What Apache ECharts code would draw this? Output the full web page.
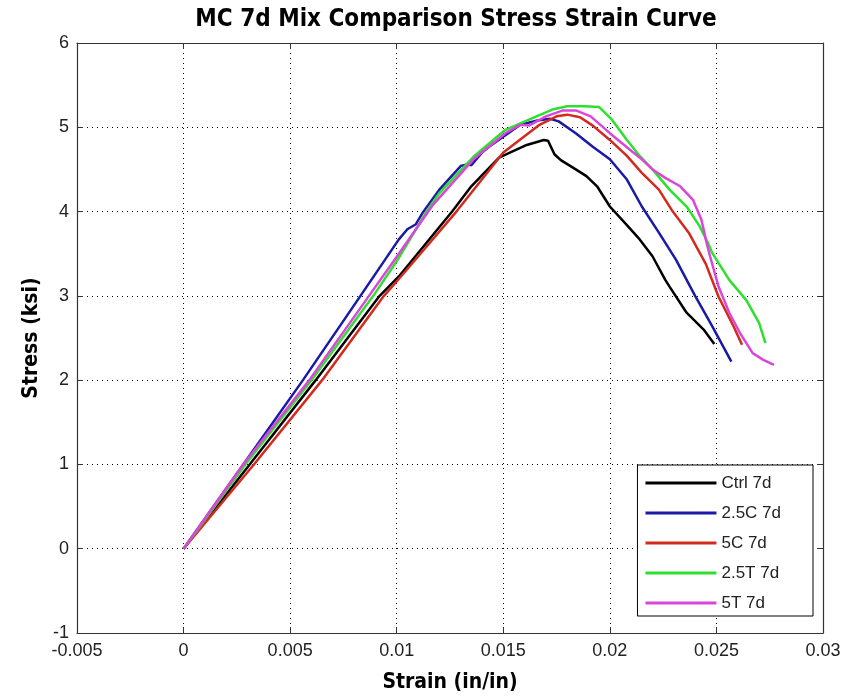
<!DOCTYPE html>
<html>
<head>
<meta charset="utf-8">
<script src="https://cdn.jsdelivr.net/npm/echarts@6/dist/echarts.min.js"></script>
<style>html,body{margin:0;padding:0;background:#fff}#c{width:849px;height:700px}</style>
</head>
<body>
<div id="c"></div>
<script>
var seriesNames = ['Ctrl 7d', '2.5C 7d', '5C 7d', '2.5T 7d', '5T 7d'];
var xTicks = [-0.005, 0, 0.005, 0.01, 0.015, 0.02, 0.025, 0.03];
var yTicks = [-1, 0, 1, 2, 3, 4, 5, 6];

var ctrlStrain = [0, 0.0031, 0.0062, 0.0092, 0.0101, 0.0126, 0.0135, 0.0148, 0.0161, 0.0169, 0.0171, 0.0174, 0.0177, 0.0184, 0.0189, 0.0194, 0.0200, 0.0208, 0.0214, 0.0220, 0.0226, 0.0228, 0.0236, 0.0244, 0.0249];
var ctrlStress = [0, 1.0, 2.0, 3.0, 3.23, 4.0, 4.3, 4.64, 4.79, 4.85, 4.84, 4.68, 4.61, 4.5, 4.42, 4.3, 4.06, 3.84, 3.67, 3.47, 3.19, 3.11, 2.80, 2.60, 2.43];

var c25Strain = [0, 0.0028, 0.0056, 0.0083, 0.0101, 0.0105, 0.0109, 0.0112, 0.0120, 0.0130, 0.0133, 0.0135, 0.0140, 0.0145, 0.0158, 0.0166, 0.0172, 0.0176, 0.0184, 0.0192, 0.0200, 0.0208, 0.0215, 0.0223, 0.0231, 0.0240, 0.0248, 0.0257];
var c25Stress = [0, 1.0, 2.0, 3.0, 3.67, 3.79, 3.85, 3.98, 4.26, 4.54, 4.56, 4.55, 4.7, 4.8, 5.03, 5.08, 5.1, 5.07, 4.93, 4.77, 4.62, 4.38, 4.06, 3.75, 3.43, 3.0, 2.64, 2.22];

var c5Strain = [0, 0.0033, 0.0065, 0.0094, 0.0101, 0.0128, 0.0150, 0.0167, 0.0175, 0.0180, 0.0186, 0.0192, 0.0200, 0.0208, 0.0215, 0.0223, 0.0229, 0.0237, 0.0245, 0.0251, 0.0258, 0.0262];
var c5Stress = [0, 1.0, 2.0, 3.0, 3.2, 4.0, 4.7, 5.03, 5.13, 5.15, 5.12, 5.02, 4.85, 4.66, 4.46, 4.26, 4.02, 3.75, 3.38, 2.99, 2.64, 2.42];

var t25Strain = [0, 0.0029, 0.0060, 0.0089, 0.0101, 0.0114, 0.0120, 0.0136, 0.0151, 0.0161, 0.0173, 0.0180, 0.0188, 0.0195, 0.0201, 0.0208, 0.0214, 0.0220, 0.0228, 0.0236, 0.0242, 0.0246, 0.0248, 0.0256, 0.0264, 0.0270, 0.0273];
var t25Stress = [0, 1.0, 2.0, 3.0, 3.45, 4.0, 4.22, 4.65, 4.97, 5.08, 5.21, 5.25, 5.25, 5.24, 5.09, 4.85, 4.66, 4.5, 4.26, 4.06, 3.83, 3.63, 3.51, 3.19, 2.95, 2.68, 2.44];

var t5Strain = [0, 0.0028, 0.0059, 0.0087, 0.0101, 0.0117, 0.0136, 0.0151, 0.0158, 0.0162, 0.0170, 0.0178, 0.0184, 0.0191, 0.0200, 0.0211, 0.0215, 0.0220, 0.0226, 0.0233, 0.0239, 0.0243, 0.0245, 0.0247, 0.0251, 0.0256, 0.0261, 0.0267, 0.0272, 0.0277];
var t5Stress = [0, 1.0, 2.0, 3.0, 3.5, 4.08, 4.62, 4.93, 5.03, 5.02, 5.13, 5.2, 5.2, 5.13, 4.93, 4.7, 4.62, 4.5, 4.4, 4.3, 4.14, 3.9, 3.67, 3.47, 3.11, 2.8, 2.56, 2.32, 2.24, 2.18];

var colors = ['#000000', '#1a1aa6', '#d42a1e', '#2ee02e', '#d946d9'];

function zip(a, b) { return a.map(function (v, i) { return [v, b[i]]; }); }
var allData = [
  zip(ctrlStrain, ctrlStress),
  zip(c25Strain, c25Stress),
  zip(c5Strain, c5Stress),
  zip(t25Strain, t25Stress),
  zip(t5Strain, t5Stress)
];

var FONT = 'Liberation Sans, Arial, sans-serif';
var BOLDFONT = "'Liberation Sans Narrow', 'DejaVu Sans Condensed', 'DejaVu Sans', sans-serif";

var chart = echarts.init(document.getElementById('c'), null, { renderer: 'canvas' });
var xMin = xTicks[0], xMax = xTicks[xTicks.length - 1];
var yMin = yTicks[0], yMax = yTicks[yTicks.length - 1];
var gridLine = { show: true, lineStyle: { color: '#000', width: 1, type: [1, 4] } };
var tickStyle = { show: true, inside: true, length: 6, lineStyle: { color: '#333', width: 1 } };
var axisLineStyle = { show: true, onZero: false, lineStyle: { color: '#333', width: 1.2 } };

chart.setOption({
  animation: false,
  backgroundColor: '#fff',
  title: {
    text: 'MC 7d Mix Comparison Stress Strain Curve',
    left: 451, top: 3, textAlign: 'center',
    textStyle: { fontFamily: BOLDFONT, fontWeight: 'bold', fontSize: 24, color: '#000' }
  },
  grid: { left: 77, right: 26, top: 43, bottom: 67, containLabel: false },
  legend: {
    orient: 'vertical', right: 36, top: 465,
    data: seriesNames,
    icon: 'rect', itemWidth: 71, itemHeight: 3, itemGap: 10,
    padding: [8, 32, 3, 8],
    backgroundColor: '#fff', borderColor: '#000', borderWidth: 1,
    textStyle: { fontFamily: FONT, fontSize: 17, color: '#222', lineHeight: 20 }
  },
  xAxis: [{
    type: 'value', position: 'bottom', min: xMin, max: xMax, interval: 0.005,
    name: 'Strain (in/in)', nameLocation: 'middle', nameGap: 39,
    nameTextStyle: { fontFamily: BOLDFONT, fontWeight: 'bold', fontSize: 21, color: '#000' },
    axisLine: axisLineStyle, axisTick: tickStyle, splitLine: gridLine,
    axisLabel: { fontFamily: FONT, fontSize: 18, color: '#222', margin: 9,
      formatter: function (v) { return String(+v.toFixed(3)); } }
  }, {
    type: 'value', position: 'top', min: xMin, max: xMax, interval: 0.005,
    axisLine: axisLineStyle, axisTick: tickStyle, splitLine: { show: false }, axisLabel: { show: false }
  }],
  yAxis: [{
    type: 'value', position: 'left', min: yMin, max: yMax, interval: 1,
    name: 'Stress (ksi)', nameLocation: 'middle', nameGap: 35,
    nameTextStyle: { fontFamily: BOLDFONT, fontWeight: 'bold', fontSize: 21, color: '#000' },
    axisLine: axisLineStyle, axisTick: tickStyle, splitLine: gridLine,
    axisLabel: { fontFamily: FONT, fontSize: 18, color: '#222', margin: 8 }
  }, {
    type: 'value', position: 'right', min: yMin, max: yMax, interval: 1,
    axisLine: axisLineStyle, axisTick: tickStyle, splitLine: { show: false }, axisLabel: { show: false }
  }],
  series: seriesNames.map(function (n, i) {
    return {
      name: n, type: 'line', data: allData[i], showSymbol: false, symbol: 'none',
      xAxisIndex: 0, yAxisIndex: 0,
      lineStyle: { color: colors[i], width: 2.5 }, itemStyle: { color: colors[i] }
    };
  })
});
</script>
</body>
</html>
